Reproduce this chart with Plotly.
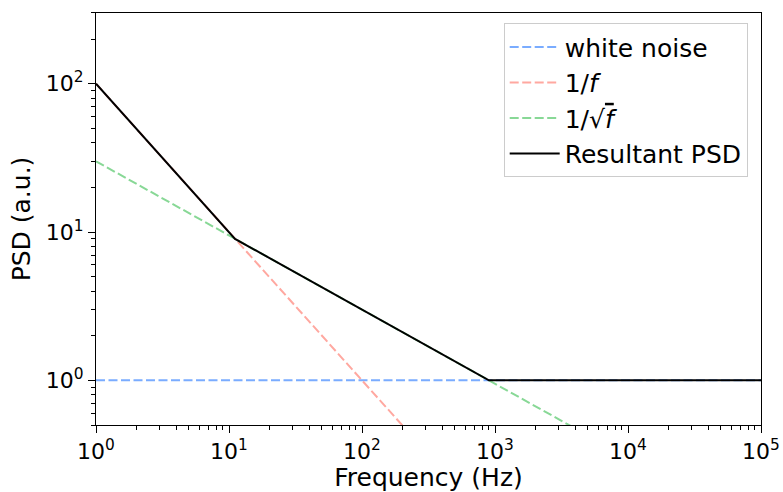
import plotly.graph_objects as go

freq_ends = [1, 1e5]
white_noise = [1, 1]
one_over_f = [100, 1e-3]
one_over_sqrt_f = [30, 0.0949]
result_freq = [1, 11.1, 900, 1e5]
result_psd = [100, 9.0, 1, 1]

x_tickvals = [1, 10, 100, 1e3, 1e4, 1e5]
x_ticktext = ["10<sup>0</sup>", "10<sup>1</sup>", "10<sup>2</sup>", "10<sup>3</sup>", "10<sup>4</sup>", "10<sup>5</sup>"]
y_tickvals = [1, 10, 100]
y_ticktext = ["10<sup>0</sup>", "10<sup>1</sup>", "10<sup>2</sup>"]
x_minor = [m * d for d in [1, 10, 100, 1e3, 1e4] for m in range(2, 10)]
y_minor = [m * d for d in [0.1, 1, 10, 100] for m in range(2, 10)]

names = ["white noise", "1/<i>f</i>", "1/√<span style='text-decoration:overline'><i>f</i></span>", "Resultant PSD"]

dash = "9px,3.5px"
fig = go.Figure()
fig.add_trace(go.Scatter(x=freq_ends, y=white_noise, mode="lines", name=names[0],
                         line=dict(color="#7aacff", width=2, dash=dash)))
fig.add_trace(go.Scatter(x=freq_ends, y=one_over_f, mode="lines", name=names[1],
                         line=dict(color="#ffa8a0", width=2, dash=dash)))
fig.add_trace(go.Scatter(x=freq_ends, y=one_over_sqrt_f, mode="lines", name=names[2],
                         line=dict(color="#88d896", width=2, dash=dash)))
fig.add_trace(go.Scatter(x=result_freq, y=result_psd, mode="lines", name=names[3],
                         line=dict(color="black", width=2)))

axis_common = dict(type="log", showgrid=False, zeroline=False, showline=True, linecolor="black",
                   linewidth=1, mirror=True, ticks="outside", ticklen=7, tickwidth=1, tickcolor="black",
                   automargin=False, tickmode="array",
                   tickfont=dict(size=22, color="black"))

fig.update_layout(
    width=783, height=492,
    margin=dict(l=96, r=22, t=13, b=67),
    plot_bgcolor="white", paper_bgcolor="white",
    font=dict(family="DejaVu Sans", color="black"),
    xaxis=dict(axis_common, range=[0, 5], tickvals=x_tickvals, ticktext=x_ticktext,
               minor=dict(tickmode="array", tickvals=x_minor, ticks="outside", ticklen=4, tickwidth=0.8,
                          tickcolor="black", showgrid=False),
               title=dict(text="Frequency (Hz)", font=dict(size=25), standoff=11)),
    yaxis=dict(axis_common, range=[-0.301, 2.477], tickvals=y_tickvals, ticktext=y_ticktext,
               minor=dict(tickmode="array", tickvals=y_minor, ticks="outside", ticklen=4, tickwidth=0.8,
                          tickcolor="black", showgrid=False),
               title=dict(text="PSD (a.u.)", font=dict(size=25), standoff=8)),
    legend=dict(x=0.98, y=0.975, xanchor="right", yanchor="top", bgcolor="rgba(255,255,255,0.8)",
                bordercolor="#cccccc", borderwidth=1, font=dict(size=25), tracegroupgap=0,
                itemwidth=50),
    showlegend=True,
)

fig.write_html("out.html", config={"displayModeBar": False},
               post_script="document.body.style.margin='0';document.body.style.padding='0';")
